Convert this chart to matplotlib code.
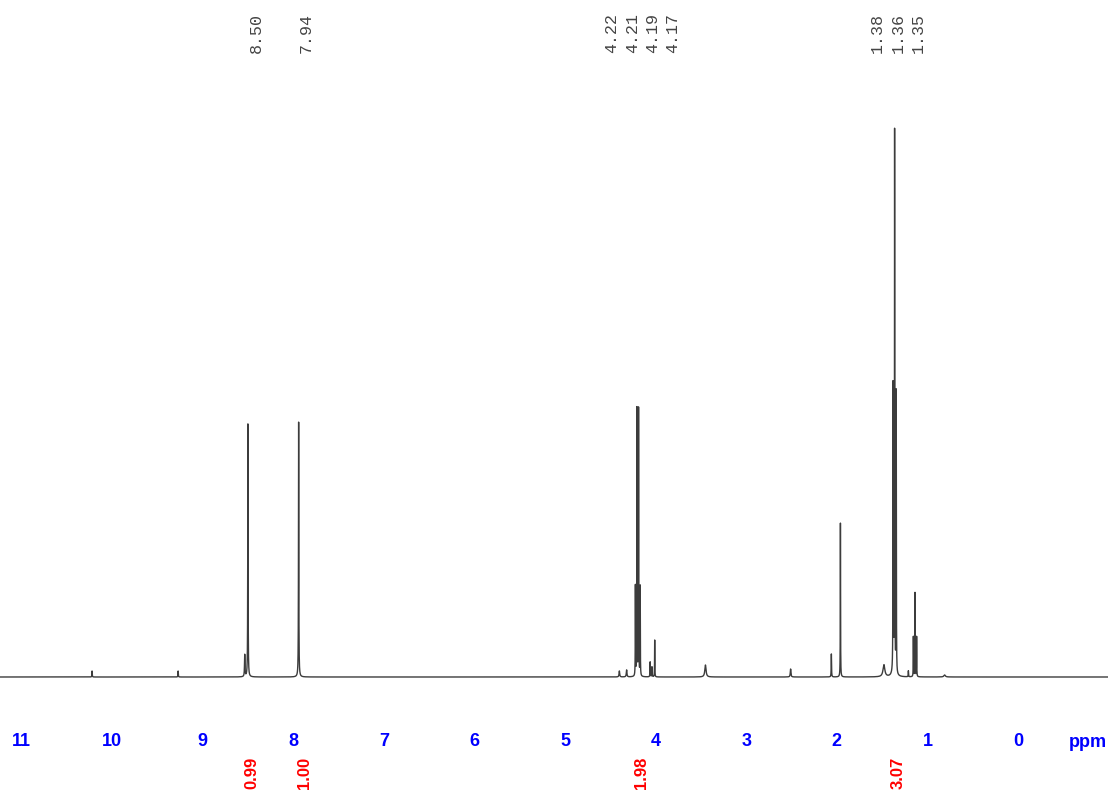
import numpy as np
import matplotlib.pyplot as plt
from matplotlib.transforms import blended_transform_factory

# 1H NMR peak list: shift (ppm), height, half width at half max (ppm)
peak_ppm = [10.22, 9.27, 8.535, 8.50, 7.94,
            4.40, 4.32, 4.223, 4.206, 4.188, 4.170, 4.06, 4.04, 4.01,
            3.45, 2.51, 2.06, 1.96, 1.48, 1.37,
            1.379, 1.362, 1.344, 1.21, 1.155, 1.137, 1.119, 0.81]
peak_height = [6, 6, 22, 253, 255,
               6, 7, 90, 268, 268, 90, 15, 10, 37,
               12, 8, 23, 154, 12, 15,
               282, 535, 282, 6, 40, 84, 40, 2]
peak_width = [0.002, 0.002, 0.003, 0.002, 0.002,
              0.004, 0.004, 0.0015, 0.0015, 0.0015, 0.0015, 0.002, 0.002, 0.0015,
              0.008, 0.004, 0.002, 0.0015, 0.012, 0.012,
              0.0015, 0.0015, 0.0015, 0.002, 0.0015, 0.0015, 0.0015, 0.01]

# picked peak labels and integrals
shift_labels = ['8.50', '7.94', '4.22', '4.21', '4.19', '4.17', '1.38', '1.36', '1.35']
integral_ppm = [8.46, 7.87, 4.16, 1.32]
integral_vals = ['0.99', '1.00', '1.98', '3.07']
ppm_ticks = list(range(11, -1, -1))

# where the peak labels sit along the axis (ppm), spread out so they don't collide
label_pos = [8.41, 7.86, 4.48, 4.25, 4.03, 3.81, 1.55, 1.32, 1.10]

ppm = np.linspace(11.3, -1.1, 60000)
spec = np.zeros_like(ppm)
for c, h, w in zip(peak_ppm, peak_height, peak_width):
    spec += h * w**2 / ((ppm - c)**2 + w**2)

fig = plt.figure(figsize=(11.11, 8.05), dpi=100)
ax = fig.add_axes([0, 115 / 805, 1108 / 1111, 590 / 805])
ax.plot(ppm, spec, color='#3c3c3c', lw=1.0)
ax.set_xlim(1018 / 90.6, (1018 - 1108) / 90.6)
ax.set_ylim(-13, 577)

for s in ax.spines.values():
    s.set_visible(False)
ax.set_yticks([])
ax.set_xticks(ppm_ticks)
ax.set_xticklabels([str(t) for t in ppm_ticks], color='blue', fontweight='bold',
                   fontsize=13, family='Liberation Sans')
ax.tick_params(axis='x', length=0, pad=31)

fig.text(1088 / 1111, 1 - 747 / 805, 'ppm', color='blue', fontweight='bold',
         fontsize=13, family='Liberation Sans', ha='center', va='baseline')

# peak shift labels along the top
trans = blended_transform_factory(ax.transData, fig.transFigure)
for x, lab in zip(label_pos, shift_labels):
    ax.text(x, 1 - 13 / 805, lab, transform=trans, rotation=90, ha='center',
            va='top', fontsize=12, family='Liberation Mono', color='#444444')

# integrals under the axis
for x, lab in zip(integral_ppm, integral_vals):
    ax.text(x, 1 - 773 / 805, lab, transform=trans, rotation=90, ha='center',
            va='center', fontsize=12, fontweight='bold', family='Liberation Sans',
            color='red')

fig.savefig('out.png', dpi=100)
